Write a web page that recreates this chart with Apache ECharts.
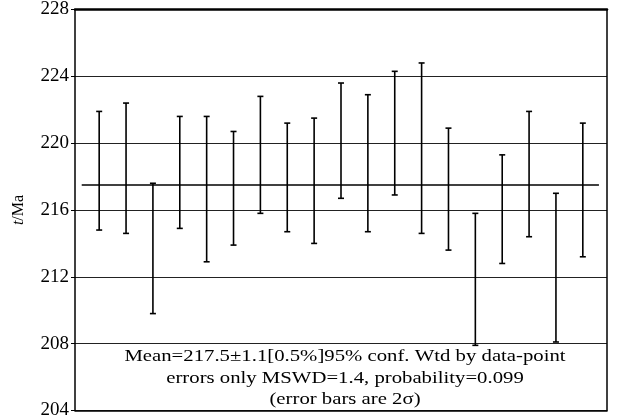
<!DOCTYPE html>
<html>
<head>
<meta charset="utf-8">
<title>weighted mean age</title>
<script src="https://cdn.jsdelivr.net/npm/echarts@6/dist/echarts.min.js"></script>
<style>
  html, body { margin: 0; padding: 0; background: #fff; }
  #chart { width: 617px; height: 420px; }
</style>
</head>
<body>
<div id="chart"></div>
<script>
// spot number -> 2σ error bar (Ma)
const spots = [1, 2, 3, 4, 5, 6, 7, 8, 9, 10, 11, 12, 13, 14, 15, 16, 17, 18, 19]
const lows = [214.8, 214.6, 209.8, 214.9, 212.9, 213.9, 215.8, 214.7, 214.0, 216.7, 214.7, 216.9, 214.6, 213.6, 207.9, 212.8, 214.4, 208.1, 213.2]
const highs = [221.9, 222.4, 217.6, 221.6, 221.6, 220.7, 222.8, 221.2, 221.5, 223.6, 222.9, 224.3, 224.8, 220.9, 215.8, 219.3, 221.9, 217.0, 221.2]
const meanAge = 217.5
const meanSpan = [0.35, 19.6]
const yTicks = [204, 208, 212, 216, 220, 224, 228]
const noteLines = [
  'Mean=217.5±1.1[0.5%]95% conf. Wtd by data-point',
  'errors only MSWD=1.4, probability=0.099',
  '(error bars are 2σ)'
]

const serif = '"Liberation Serif", "DejaVu Serif", serif'
const chart = echarts.init(document.getElementById('chart'))

const barData = spots.map((s, i) => [s, lows[i], highs[i]])

const renderBar = (params, api) => {
  const lo = api.coord([api.value(0), api.value(1)])
  const hi = api.coord([api.value(0), api.value(2)])
  const cap = 3
  const style = { stroke: '#000', lineWidth: 1.6 }
  return {
    type: 'group',
    children: [
      { type: 'line', shape: { x1: lo[0], y1: lo[1], x2: hi[0], y2: hi[1] }, style },
      { type: 'line', shape: { x1: hi[0] - cap, y1: hi[1], x2: hi[0] + cap, y2: hi[1] }, style },
      { type: 'line', shape: { x1: lo[0] - cap, y1: lo[1], x2: lo[0] + cap, y2: lo[1] }, style }
    ]
  }
}

const option = {
  animation: false,
  grid: { left: 75, right: 10, top: 7, bottom: 9 },
  xAxis: [
    {
      type: 'value', min: 0.1, max: 19.9,
      axisLine: { show: true, onZero: false, lineStyle: { color: '#000', width: 1.5 } },
      axisTick: { show: false }, axisLabel: { show: false }, splitLine: { show: false }
    },
    {
      type: 'value', position: 'top', min: 0.1, max: 19.9,
      axisLine: { show: true, onZero: false, lineStyle: { color: '#000', width: 2.5 } },
      axisTick: { show: false }, axisLabel: { show: false }, splitLine: { show: false }
    }
  ],
  yAxis: [
    {
      type: 'value', min: yTicks[0], max: yTicks[yTicks.length - 1], interval: 4,
      name: '{i|t}/Ma',
      nameLocation: 'middle',
      nameGap: 48,
      nameRotate: 90,
      nameTextStyle: {
        fontFamily: serif, fontSize: 16, color: '#000',
        rich: { i: { fontFamily: serif, fontSize: 16, fontStyle: 'italic', color: '#000' } }
      },
      axisLine: { show: true, lineStyle: { color: '#000', width: 1.5 } },
      axisTick: { show: true, inside: false, length: 4, lineStyle: { color: '#000' } },
      axisLabel: { fontFamily: serif, fontSize: 19, color: '#000', margin: 6 },
      splitLine: { show: true, lineStyle: { color: '#222', width: 1 } }
    },
    {
      type: 'value', position: 'right', min: yTicks[0], max: yTicks[yTicks.length - 1], interval: 4,
      axisLine: { show: true, lineStyle: { color: '#000', width: 1.5 } },
      axisTick: { show: false }, axisLabel: { show: false }, splitLine: { show: false }
    }
  ],
  series: [
    {
      name: 'mean',
      type: 'line',
      data: meanSpan.map(x => [x, meanAge]),
      symbol: 'none',
      lineStyle: { color: '#000', width: 1.5 },
      z: 3
    },
    {
      name: 'spots',
      type: 'custom',
      renderItem: renderBar,
      encode: { x: 0, y: [1, 2] },
      data: barData,
      z: 4
    }
  ],
  graphic: noteLines.map((t, i) => ({
    type: 'text',
    x: 345,
    y: 357 + i * 21.5,
    scaleX: 1.22,
    z: 10,
    style: {
      text: t,
      fontFamily: serif,
      fontSize: 17,
      fill: '#000',
      align: 'center',
      verticalAlign: 'middle'
    }
  }))
}

chart.setOption(option)
window.addEventListener('resize', () => chart.resize())
</script>
</body>
</html>
